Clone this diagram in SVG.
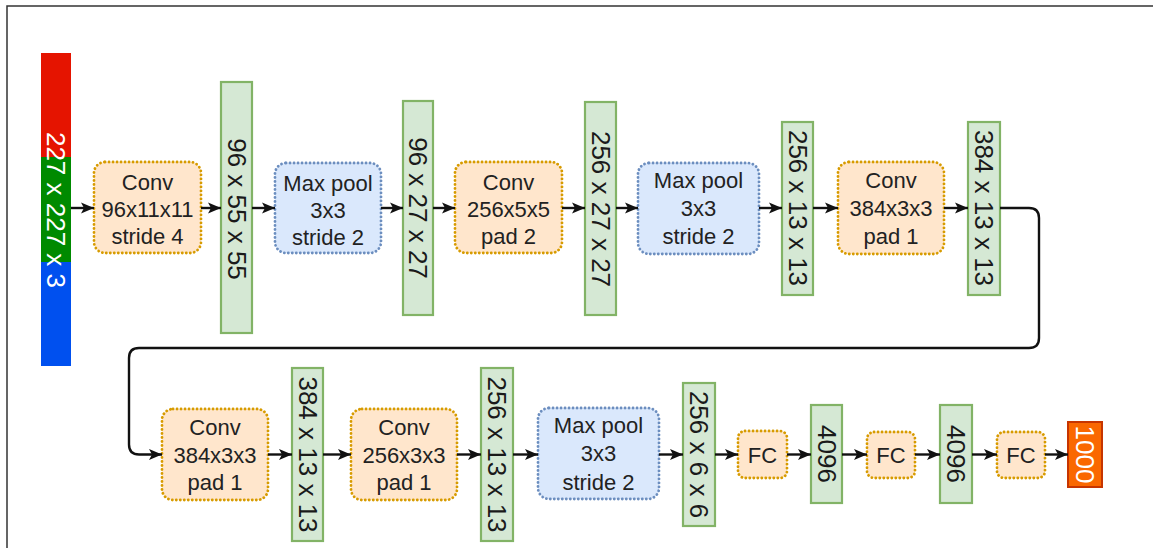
<svg xmlns="http://www.w3.org/2000/svg" width="1153" height="548" viewBox="0 0 1153 548">
  <style>
    .lbl { font-family: "Liberation Sans", Arial, sans-serif; font-size: 22px; fill: #222; text-anchor: middle; }
    .vlbl { font-family: "Liberation Sans", Arial, sans-serif; font-size: 26px; fill: #1a1a1a; text-anchor: middle; dominant-baseline: central; }
    .wlbl { fill: #ffffff; }
    .conv { fill: #ffe6cc; stroke: #d79b00; stroke-width: 2.8; stroke-dasharray: 0.1 3.9; stroke-linecap: round; }
    .pool { fill: #dae8fc; stroke: #6c8ebf; stroke-width: 2.8; stroke-dasharray: 0.1 3.9; stroke-linecap: round; }
    .feat { fill: #d5e8d4; stroke: #82b366; stroke-width: 2.2; }
    .out { fill: #fa6800; stroke: #c73500; stroke-width: 2; }
    .edge { fill: none; stroke: #111; stroke-width: 2.4; }
    .frame { fill: none; stroke: #333; stroke-width: 1.5; }
  </style>
  <defs>
    <marker id="arrow" markerUnits="userSpaceOnUse" markerWidth="14" markerHeight="12" refX="13" refY="6" orient="auto">
      <path d="M0,0.5 L13,6 L0,11.5 L3,6 z" fill="#111"/>
    </marker>
  </defs>

  <rect width="1153" height="548" fill="#ffffff"/>
  <!-- outer frame (top and left edges) -->
  <path class="frame" d="M7,548 V6 H1153"/>

  <!-- input image 227 x 227 x 3 -->
  <g id="input">
    <rect x="41" y="53" width="30" height="104" fill="#e51400"/>
    <rect x="41" y="157" width="30" height="105" fill="#008a00"/>
    <rect x="41" y="262" width="30" height="104" fill="#0050ef"/>
    <text class="vlbl wlbl" x="56" y="210" transform="rotate(90 56 210)">227 x 227 x 3</text>
  </g>

  <g id="conv1">
    <rect class="conv" x="94" y="162" width="107" height="91" rx="11"/>
    <text class="lbl" x="147.5" y="190">Conv</text>
    <text class="lbl" x="147.5" y="217">96x11x11</text>
    <text class="lbl" x="147.5" y="244">stride 4</text>
  </g>

  <g id="feat1">
    <rect class="feat" x="221" y="82" width="31" height="251"/>
    <text class="vlbl" x="236.5" y="209" transform="rotate(90 236.5 209)">96 x 55 x 55</text>
  </g>

  <g id="pool1">
    <rect class="pool" x="275" y="163" width="106" height="90" rx="11"/>
    <text class="lbl" x="328" y="191">Max pool</text>
    <text class="lbl" x="328" y="218">3x3</text>
    <text class="lbl" x="328" y="245">stride 2</text>
  </g>

  <g id="feat2">
    <rect class="feat" x="403" y="101" width="30" height="214"/>
    <text class="vlbl" x="418" y="208" transform="rotate(90 418 208)">96 x 27 x 27</text>
  </g>

  <g id="conv2">
    <rect class="conv" x="455" y="162" width="107" height="91" rx="11"/>
    <text class="lbl" x="508.5" y="190">Conv</text>
    <text class="lbl" x="508.5" y="217">256x5x5</text>
    <text class="lbl" x="508.5" y="244">pad 2</text>
  </g>

  <g id="feat3">
    <rect class="feat" x="585" y="102" width="31" height="213"/>
    <text class="vlbl" x="600.5" y="209" transform="rotate(90 600.5 209)">256 x 27 x 27</text>
  </g>

  <g id="pool2">
    <rect class="pool" x="638" y="163" width="121" height="91" rx="11"/>
    <text class="lbl" x="698.5" y="188">Max pool</text>
    <text class="lbl" x="698.5" y="216">3x3</text>
    <text class="lbl" x="698.5" y="244">stride 2</text>
  </g>

  <g id="feat4">
    <rect class="feat" x="782" y="122" width="31" height="173"/>
    <text class="vlbl" x="797.5" y="208" transform="rotate(90 797.5 208)">256 x 13 x 13</text>
  </g>

  <g id="conv3">
    <rect class="conv" x="838" y="162" width="106" height="92" rx="11"/>
    <text class="lbl" x="891" y="188">Conv</text>
    <text class="lbl" x="891" y="216">384x3x3</text>
    <text class="lbl" x="891" y="244">pad 1</text>
  </g>

  <g id="feat5">
    <rect class="feat" x="968" y="122" width="32" height="173"/>
    <text class="vlbl" x="984" y="208" transform="rotate(90 984 208)">384 x 13 x 13</text>
  </g>

  <g id="conv4">
    <rect class="conv" x="162" y="409" width="106" height="91" rx="11"/>
    <text class="lbl" x="215" y="435">Conv</text>
    <text class="lbl" x="215" y="463">384x3x3</text>
    <text class="lbl" x="215" y="490">pad 1</text>
  </g>

  <g id="feat6">
    <rect class="feat" x="292" y="368" width="31" height="173"/>
    <text class="vlbl" x="307.5" y="454.5" transform="rotate(90 307.5 454.5)">384 x 13 x 13</text>
  </g>

  <g id="conv5">
    <rect class="conv" x="351" y="409" width="106" height="91" rx="11"/>
    <text class="lbl" x="404" y="435">Conv</text>
    <text class="lbl" x="404" y="463">256x3x3</text>
    <text class="lbl" x="404" y="490">pad 1</text>
  </g>

  <g id="feat7">
    <rect class="feat" x="481" y="368" width="32" height="173"/>
    <text class="vlbl" x="497" y="454.5" transform="rotate(90 497 454.5)">256 x 13 x 13</text>
  </g>

  <g id="pool3">
    <rect class="pool" x="538" y="408" width="121" height="91" rx="11"/>
    <text class="lbl" x="598.5" y="433">Max pool</text>
    <text class="lbl" x="598.5" y="461">3x3</text>
    <text class="lbl" x="598.5" y="490">stride 2</text>
  </g>

  <g id="feat8">
    <rect class="feat" x="683" y="383" width="32" height="143"/>
    <text class="vlbl" x="699" y="454.5" transform="rotate(90 699 454.5)">256 x 6 x 6</text>
  </g>

  <g id="fc1">
    <rect class="conv" x="738" y="431" width="49" height="47" rx="7"/>
    <text class="lbl" x="762.5" y="462.5">FC</text>
  </g>

  <g id="feat9">
    <rect class="feat" x="811" y="405" width="31" height="98"/>
    <text class="vlbl" x="826.5" y="454" transform="rotate(90 826.5 454)">4096</text>
  </g>

  <g id="fc2">
    <rect class="conv" x="867" y="432" width="48" height="46" rx="7"/>
    <text class="lbl" x="891" y="462.5">FC</text>
  </g>

  <g id="feat10">
    <rect class="feat" x="940" y="405" width="32" height="98"/>
    <text class="vlbl" x="956" y="454" transform="rotate(90 956 454)">4096</text>
  </g>

  <g id="fc3">
    <rect class="conv" x="997" y="432" width="48" height="46" rx="7"/>
    <text class="lbl" x="1021" y="462.5">FC</text>
  </g>

  <g id="output">
    <rect class="out" x="1068" y="422" width="34" height="65"/>
    <text class="vlbl wlbl" x="1085" y="454.5" transform="rotate(90 1085 454.5)">1000</text>
  </g>

  <!-- connectors -->
  <g id="connectors" marker-end="url(#arrow)">
    <path class="edge" d="M71,208 H94"/>
    <path class="edge" d="M201,208 H221"/>
    <path class="edge" d="M252,208 H275"/>
    <path class="edge" d="M381,208 H403"/>
    <path class="edge" d="M433,208 H455"/>
    <path class="edge" d="M562,208 H585"/>
    <path class="edge" d="M616,208 H638"/>
    <path class="edge" d="M759,208 H782"/>
    <path class="edge" d="M813,208 H838"/>
    <path class="edge" d="M944,208 H968"/>
    <path class="edge" d="M1000,208 H1029 Q1039,208 1039,218 V338 Q1039,348 1029,348 H139 Q129,348 129,358 V444.5 Q129,454.5 139,454.5 H162"/>
    <path class="edge" d="M268,454.5 H292"/>
    <path class="edge" d="M323,454.5 H351"/>
    <path class="edge" d="M457,454.5 H481"/>
    <path class="edge" d="M513,454.5 H538"/>
    <path class="edge" d="M659,454.5 H683"/>
    <path class="edge" d="M715,454.5 H738"/>
    <path class="edge" d="M787,454.5 H811"/>
    <path class="edge" d="M842,454.5 H867"/>
    <path class="edge" d="M915,454.5 H940"/>
    <path class="edge" d="M972,454.5 H997"/>
    <path class="edge" d="M1045,454.5 H1068"/>
  </g>
</svg>
